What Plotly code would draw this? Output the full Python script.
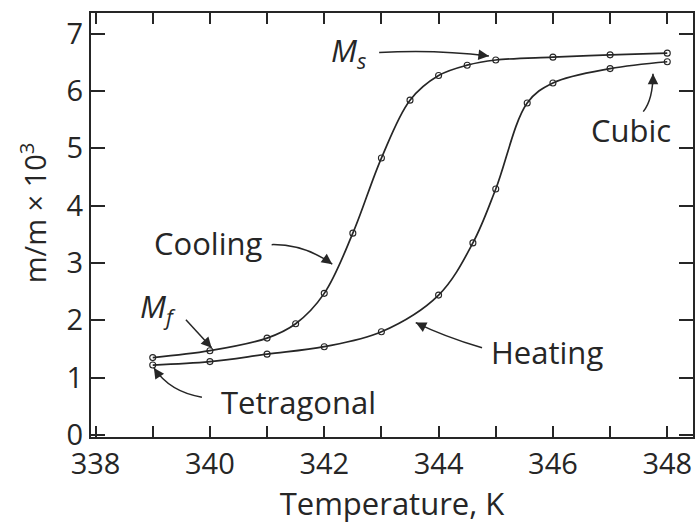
import plotly.graph_objects as go

# Cooling branch (upper curve, transition near 343 K)
cool_T = [339, 340, 341, 341.5, 342, 342.5, 343, 343.5, 344, 344.5, 345, 346, 347, 348]
cool_m = [1.35, 1.47, 1.69, 1.94, 2.47, 3.52, 4.83, 5.84, 6.27, 6.45, 6.54, 6.59, 6.63, 6.66]

# Heating branch (lower curve, transition near 345 K)
heat_T = [339, 340, 341, 342, 343, 344, 344.6, 345, 345.55, 346, 347, 348]
heat_m = [1.22, 1.28, 1.41, 1.54, 1.80, 2.44, 3.35, 4.29, 5.79, 6.14, 6.39, 6.51]

x_ticks = list(range(338, 349))
x_labels = [str(t) if t % 2 == 0 else "" for t in x_ticks]
y_ticks = list(range(0, 8))

INK = "#262626"
FONT = "Open Sans"
TICK_SIZE = 29
LABEL_SIZE = 31

fig = go.Figure()
for T, m in [(cool_T, cool_m), (heat_T, heat_m)]:
    fig.add_trace(go.Scatter(
        x=T, y=m, mode="lines+markers",
        line=dict(color=INK, width=1.7, shape="spline", smoothing=1.0),
        marker=dict(symbol="circle-open", size=6, color=INK, line=dict(width=1.1)),
        showlegend=False,
    ))

# Curved leader lines: (start, control, tip) in data units
leaders = [
    ((342.96, 6.67), (343.92, 6.73), (344.88, 6.61)),   # M_s
    ((341.08, 3.32), (341.65, 3.33), (342.14, 2.98)),   # Cooling
    ((339.58, 2.01), (339.80, 1.77), (340.03, 1.52)),   # M_f
    ((339.86, 0.66), (339.30, 0.75), (339.02, 1.17)),   # Tetragonal
    ((344.76, 1.52), (344.09, 1.72), (343.60, 1.96)),   # Heating
    ((347.58, 5.64), (347.75, 5.85), (347.75, 6.30)),   # Cubic
]
for (x0, y0), (cx, cy), (x1, y1) in leaders:
    fig.add_shape(type="path", xref="x", yref="y",
                  path=f"M {x0},{y0} Q {cx},{cy} {x1},{y1}",
                  line=dict(color=INK, width=1.5))
    # arrowhead aligned with the curve's tangent at the tip
    dxp = (x1 - cx) * 57.35
    dyp = -(y1 - cy) * 57.3
    n = (dxp ** 2 + dyp ** 2) ** 0.5
    fig.add_annotation(x=x1, y=y1, xref="x", yref="y", text="",
                       showarrow=True, arrowhead=2, arrowsize=1.4,
                       arrowwidth=1.5, arrowcolor=INK, standoff=0,
                       ax=-dxp / n * 12, ay=-dyp / n * 12)

labels = [
    ("<i>M<sub>s</sub></i>", 342.42, 6.68),
    ("Cooling", 339.96, 3.35),
    ("<i>M<sub>f</sub></i>", 339.09, 2.22),
    ("Tetragonal", 341.55, 0.58),
    ("Heating", 345.90, 1.45),
    ("Cubic", 347.37, 5.32),
]
for txt, x, y in labels:
    fig.add_annotation(x=x, y=y, xref="x", yref="y", text=txt, showarrow=False,
                       font=dict(family=FONT, size=LABEL_SIZE, color=INK))

# y-axis title, placed as a rotated paper-anchored label
fig.add_annotation(x=-0.096, y=0.528, xref="paper", yref="paper",
                   text="m/m × 10<sup>3</sup>", textangle=-90, showarrow=False,
                   xanchor="center", yanchor="middle",
                   font=dict(family=FONT, size=TICK_SIZE, color=INK))

axis_common = dict(
    showline=True, linecolor=INK, linewidth=2, mirror="ticks",
    ticks="inside", tickcolor=INK, tickwidth=1.6,
    showgrid=False, zeroline=False,
    tickfont=dict(family=FONT, size=TICK_SIZE, color=INK),
)
fig.update_xaxes(range=[337.92, 348.45], tickvals=x_ticks, ticktext=x_labels,
                 ticklen=11, title=dict(text="Temperature, K", standoff=8,
                                         font=dict(family=FONT, size=LABEL_SIZE, color=INK)),
                 **axis_common)
fig.update_yaxes(range=[-0.035, 7.36], tickvals=y_ticks, ticklen=14,
                 **axis_common)

fig.update_layout(
    width=700, height=524,
    margin=dict(l=91, r=5, t=13, b=87),
    plot_bgcolor="white", paper_bgcolor="white",
)
fig.write_html("out.html")
